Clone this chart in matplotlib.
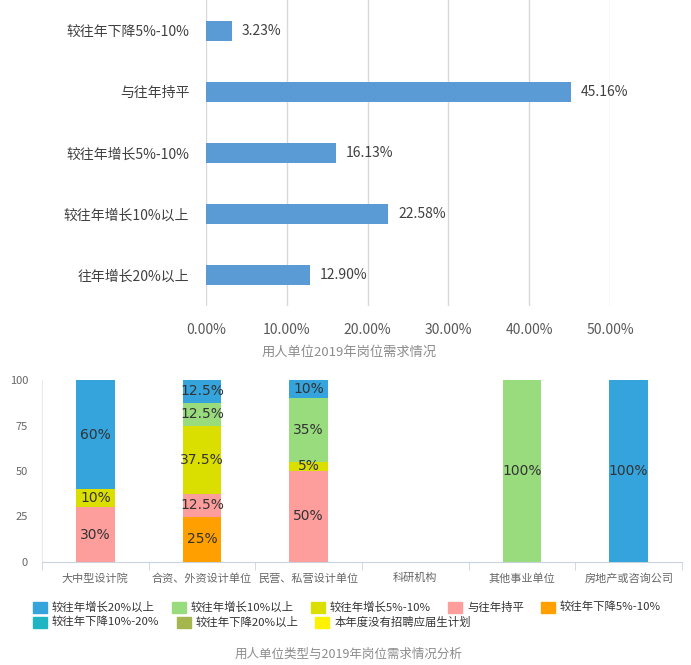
import numpy as np
import matplotlib
matplotlib.use('Agg')
import matplotlib.pyplot as plt
from matplotlib.patches import Rectangle

plt.rcParams['font.family'] = ['Noto Sans CJK SC', 'DejaVu Sans']

# 上图数据
top_labels = ['较往年下降5%-10%', '与往年持平', '较往年增长5%-10%', '较往年增长10%以上', '往年增长20%以上']
top_values = [3.23, 45.16, 16.13, 22.58, 12.90]
top_ticks = [0, 10, 20, 30, 40, 50]

# 下图数据
units = ['大中型设计院', '合资、外资设计单位', '民营、私营设计单位', '科研机构', '其他事业单位', '房地产或咨询公司']
series_names = ['较往年增长20%以上', '较往年增长10%以上', '较往年增长5%-10%', '与往年持平', '较往年下降5%-10%',
                '较往年下降10%-20%', '较往年下降20%以上', '本年度没有招聘应届生计划']
series_colors = ['#35a3dc', '#98dc7e', '#dbdf00', '#fd9d9c', '#ffa000', '#1fb5c3', '#a6b64f', '#fff200']
grow20 = [60, 12.5, 10, 0, 0, 100]
grow10 = [0, 12.5, 35, 0, 100, 0]
grow5 = [10, 37.5, 5, 0, 0, 0]
flat = [30, 12.5, 50, 0, 0, 0]
drop5 = [0, 25, 0, 0, 0, 0]
drop10 = [0, 0, 0, 0, 0, 0]
drop20 = [0, 0, 0, 0, 0, 0]
no_plan = [0, 0, 0, 0, 0, 0]
series_values = [grow20, grow10, grow5, flat, drop5, drop10, drop20, no_plan]
stack_order = [4, 3, 2, 1, 0, 5, 6, 7]  # 从下往上

W, H = 691, 665
fig = plt.figure(figsize=(W / 100, H / 100), dpi=100)

# ---------- 上图 ----------
ax1 = fig.add_axes([206 / W, 1 - 306 / H, 404 / W, 306 / H])
y = np.arange(len(top_labels))
ax1.barh(y, top_values, height=0.33, color='#5b9bd5', zorder=3)
for yi, v in zip(y, top_values):
    ax1.annotate(f'{v:.2f}%', (v, yi), xytext=(7, 0), textcoords='offset points',
                 va='center', ha='left', fontsize=10, color='#404040')
ax1.set_ylim(len(top_labels) - 0.5, -0.5)
ax1.set_xlim(0, 50)
ax1.set_xticks(top_ticks)
ax1.set_xticklabels([f'{t:.2f}%' for t in top_ticks])
ax1.set_yticks(y)
ax1.set_yticklabels(top_labels)
ax1.tick_params(axis='both', length=0, labelsize=10, colors='#595959')
ax1.tick_params(axis='x', pad=12)
ax1.tick_params(axis='y', pad=12, labelcolor='#404040')
ax1.grid(axis='x', color='#d9d9d9', lw=1, zorder=0)
for s in ax1.spines.values():
    s.set_visible(False)
fig.text(349 / W, 1 - 352 / H, '用人单位2019年岗位需求情况', ha='center', va='center',
         fontsize=9.5, color='#8c8c8c')

# ---------- 下图 ----------
ax2 = fig.add_axes([42 / W, 1 - 562 / H, 640 / W, 182 / H])
x = np.arange(len(units))
bottom = np.zeros(len(units))
for i in stack_order:
    vals = np.array(series_values[i], dtype=float)
    ax2.bar(x, vals, bottom=bottom, width=0.36, color=series_colors[i], zorder=3)
    for xi, b, v in zip(x, bottom, vals):
        if v > 0:
            ax2.text(xi, b + v / 2, f'{v:g}%', ha='center', va='center',
                     fontsize=10, color='#333333', family='DejaVu Sans', zorder=4)
    bottom += vals
ax2.set_xlim(-0.5, len(units) - 0.5)
ax2.set_ylim(0, 100)
ax2.set_yticks([0, 25, 50, 75, 100])
ax2.set_xticks(x)
ax2.set_xticklabels(units)
ax2.set_xticks(np.arange(len(units) + 1) - 0.5, minor=True)
ax2.tick_params(axis='x', which='major', length=0, pad=8, labelsize=8, colors='#666666')
ax2.tick_params(axis='x', which='minor', length=6, color='#c9d3df')
ax2.tick_params(axis='y', length=0, pad=10, labelsize=8, colors='#666666')
for s in ['top', 'right']:
    ax2.spines[s].set_visible(False)
ax2.spines['bottom'].set_color('#c9d3df')
ax2.spines['left'].set_color('#e6ebf1')

# 图例（流式排列）
renderer = fig.canvas.get_renderer()
lx, ly = 33, 607
row_h = 15
for name, col in zip(series_names, series_colors):
    t = fig.text(0, 0, name, fontsize=8.2, color='#333333', va='center', ha='left')
    tw = t.get_window_extent(renderer).width
    if lx + 19 + tw > W - 5:
        lx = 33
        ly += row_h
    fig.patches.append(Rectangle((lx / W, 1 - (ly + 5.5) / H), 14 / W, 11 / H,
                                 transform=fig.transFigure, color=col, figure=fig))
    t.set_position(((lx + 19) / W, 1 - ly / H))
    lx += 19 + tw + 17

fig.text(349 / W, 1 - 654 / H, '用人单位类型与2019年岗位需求情况分析', ha='center', va='center',
         fontsize=9, color='#8c8c8c')

fig.savefig('out.png', dpi=100)
